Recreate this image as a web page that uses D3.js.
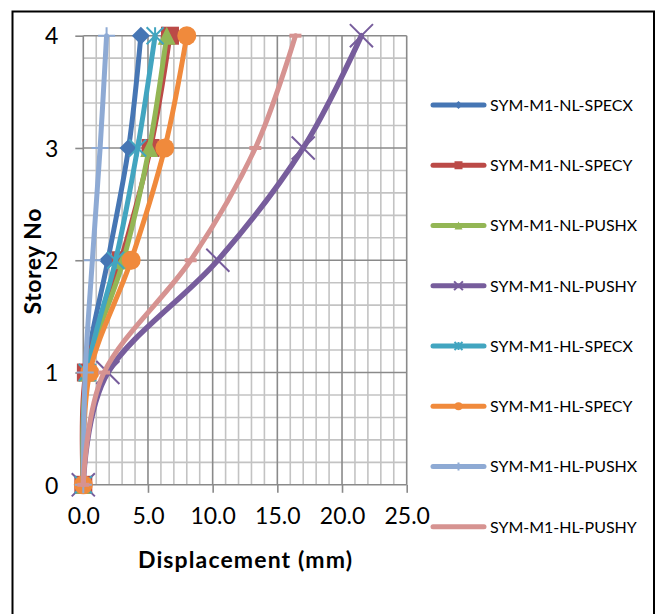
<!DOCTYPE html>
<html>
<head>
<meta charset="utf-8">
<script src="https://cdn.jsdelivr.net/npm/d3@7"></script>
<style>
  html, body { margin: 0; padding: 0; background: #fff; }
  svg { display: block; }
  text { font-family: Lato, "Open Sans", "Liberation Sans", sans-serif; fill: #000; }
</style>
</head>
<body>
<script>
// ---- data ----
const storeys = [0, 1, 2, 3, 4];
const seriesNames = ["SYM-M1-NL-SPECX", "SYM-M1-NL-SPECY", "SYM-M1-NL-PUSHX", "SYM-M1-NL-PUSHY",
                     "SYM-M1-HL-SPECX", "SYM-M1-HL-SPECY", "SYM-M1-HL-PUSHX", "SYM-M1-HL-PUSHY"];
const nlSpecX = [0, 0.2, 1.9, 3.5, 4.45];
const nlSpecY = [0, 0.2, 2.9, 5.2, 6.7];
const nlPushX = [0, 0.3, 3.1, 5.1, 6.45];
const nlPushY = [0, 1.9, 10.4, 17.0, 21.5];
const hlSpecX = [0, 0.3, 2.5, 4.2, 5.55];
const hlSpecY = [0, 0.5, 3.7, 6.3, 8.0];
const hlPushX = [0, 0.15, 0.7, 1.3, 1.8];
const hlPushY = [0, 1.6, 8.3, 13.3, 16.4];
const xTickValues = [0, 5, 10, 15, 20, 25];
const yTickValues = [0, 1, 2, 3, 4];
const xTitle = "Displacement (mm)";
const yTitle = "Storey No";

// ---- styles ----
const seriesValues = [nlSpecX, nlSpecY, nlPushX, nlPushY, hlSpecX, hlSpecY, hlPushX, hlPushY];
const colors = ["#4676b4", "#bb4a47", "#93b655", "#775d9c", "#42a5c0", "#f08a3c", "#8eaad4", "#d69391"];
const markers = ["diamond", "square", "triangle", "x", "asterisk", "circle", "plus", "dash"];

const W = 664, H = 614;
const svg = d3.select("body").append("svg").attr("width", W).attr("height", H);

// outer border
svg.append("rect").attr("x", 12.5).attr("y", 11.5).attr("width", 641.5).attr("height", 640)
  .attr("fill", "#fff").attr("stroke", "#000").attr("stroke-width", 2);

const x = d3.scaleLinear().domain([0, 25]).range([83.3, 406.7]);
const y = d3.scaleLinear().domain([0, 4]).range([484.8, 35.7]);

// gridlines
const g = svg.append("g");
const minorX = d3.range(0, 26, 1).filter(v => v % 5 !== 0);
const minorY = d3.range(0, 20, 1).map(v => v * 0.2).filter((v, i) => i % 5 !== 0);
g.selectAll(".mx").data(minorX).join("line")
  .attr("x1", d => x(d)).attr("x2", d => x(d)).attr("y1", y(0)).attr("y2", y(4))
  .attr("stroke", "#c3c3c3").attr("stroke-width", 1.6);
g.selectAll(".my").data(minorY).join("line")
  .attr("x1", x(0)).attr("x2", x(25)).attr("y1", d => y(d)).attr("y2", d => y(d))
  .attr("stroke", "#c3c3c3").attr("stroke-width", 1.6);
g.selectAll(".Mx").data(xTickValues).join("line")
  .attr("x1", d => x(d)).attr("x2", d => x(d)).attr("y1", y(0)).attr("y2", y(4))
  .attr("stroke", "#8a8a8a").attr("stroke-width", 1.6);
g.selectAll(".My").data(yTickValues).join("line")
  .attr("x1", x(0)).attr("x2", x(25)).attr("y1", d => y(d)).attr("y2", d => y(d))
  .attr("stroke", "#8a8a8a").attr("stroke-width", 1.6);

// axes via d3
const xAxis = d3.axisBottom(x).tickValues(xTickValues).tickFormat(d3.format(".1f")).tickSize(8).tickPadding(18);
const yAxis = d3.axisLeft(y).tickValues(yTickValues).tickFormat(d3.format("d")).tickSize(8).tickPadding(18);
const gx = svg.append("g").attr("transform", `translate(0,${y(0)})`).call(xAxis);
const gy = svg.append("g").attr("transform", `translate(${x(0)},0)`).call(yAxis);
[gx, gy].forEach(a => {
  a.select(".domain").remove();
  a.selectAll(".tick line").attr("stroke", "#8a8a8a").attr("stroke-width", 1.6);
  a.selectAll(".tick text").attr("font-size", 23).attr("font-family", "Lato, 'Open Sans', sans-serif").attr("fill", "#000");
});
gx.selectAll(".tick text").attr("dy", "0.71em").attr("y", 23);
gy.selectAll(".tick text").attr("x", -25).attr("dy", "0.36em");

// titles
svg.append("text").attr("x", 245).attr("y", 568).attr("text-anchor", "middle")
  .attr("font-size", 23).attr("font-weight", "bold")
  .attr("textLength", 214).attr("lengthAdjust", "spacing").text(xTitle);
svg.append("text").attr("transform", "translate(41,261.5) rotate(-90)").attr("text-anchor", "middle")
  .attr("font-size", 23).attr("font-weight", "bold")
  .attr("textLength", 106).attr("lengthAdjust", "spacing").text(yTitle);

// marker drawer
function drawMarker(sel, type, color, s) {
  const h = s / 2;
  if (type === "diamond") {
    sel.append("path").attr("d", `M0,${-h}L${h},0L0,${h}L${-h},0Z`).attr("fill", color);
  } else if (type === "square") {
    sel.append("rect").attr("x", -h).attr("y", -h).attr("width", s).attr("height", s).attr("fill", color);
  } else if (type === "triangle") {
    sel.append("path").attr("d", `M0,${-h}L${h},${h}L${-h},${h}Z`).attr("fill", color);
  } else if (type === "circle") {
    sel.append("circle").attr("r", h).attr("fill", color);
  } else if (type === "x") {
    const k = h * 1.1;
    sel.append("path").attr("d", `M${-k},${-k}L${k},${k}M${k},${-k}L${-k},${k}`)
      .attr("stroke", color).attr("stroke-width", 2).attr("fill", "none");
  } else if (type === "asterisk") {
    sel.append("path").attr("d", `M${-h},${-h}L${h},${h}M${h},${-h}L${-h},${h}M0,${-h}L0,${h}`)
      .attr("stroke", color).attr("stroke-width", 2).attr("fill", "none");
  } else if (type === "plus") {
    sel.append("path").attr("d", `M${-h},0L${h},0M0,${-h}L0,${h}`)
      .attr("stroke", color).attr("stroke-width", 2).attr("fill", "none");
  } else if (type === "dash") {
    sel.append("rect").attr("x", -h * 0.75).attr("y", -2).attr("width", h * 1.5).attr("height", 4).attr("fill", color);
  }
}

const line = d3.line().x(d => x(d.v)).y(d => y(d.s)).curve(d3.curveCardinal.tension(0));
const markerSize = [18, 18, 18, 21, 17, 19, 17, 16];

seriesValues.forEach((vals, i) => {
  const pts = vals.map((v, j) => ({ v, s: storeys[j] }));
  const sg = svg.append("g");
  sg.append("path").datum(pts).attr("d", line).attr("fill", "none")
    .attr("stroke", colors[i]).attr("stroke-width", i === 3 ? 5.5 : 5).attr("stroke-linecap", "round").attr("stroke-linejoin", "round");
  sg.selectAll(".m").data(pts).join("g")
    .attr("transform", d => `translate(${x(d.v)},${y(d.s)})`)
    .each(function () { drawMarker(d3.select(this), markers[i], colors[i], markerSize[i]); });
});

// legend
const legY = d3.range(8).map(i => 105 + i * 60.25);
const leg = svg.append("g");
seriesNames.forEach((name, i) => {
  const lg = leg.append("g").attr("transform", `translate(0,${legY[i]})`);
  lg.append("line").attr("x1", 433).attr("x2", 484).attr("y1", 0).attr("y2", 0)
    .attr("stroke", colors[i]).attr("stroke-width", 5).attr("stroke-linecap", "round");
  const mg = lg.append("g").attr("transform", "translate(458.5,0)");
  drawMarker(mg, markers[i], colors[i], markers[i] === "dash" ? 0 : 8);
  lg.append("text").attr("x", 490).attr("y", 0).attr("dy", "0.36em")
    .attr("font-size", 16).text(name);
});
</script>
</body>
</html>
